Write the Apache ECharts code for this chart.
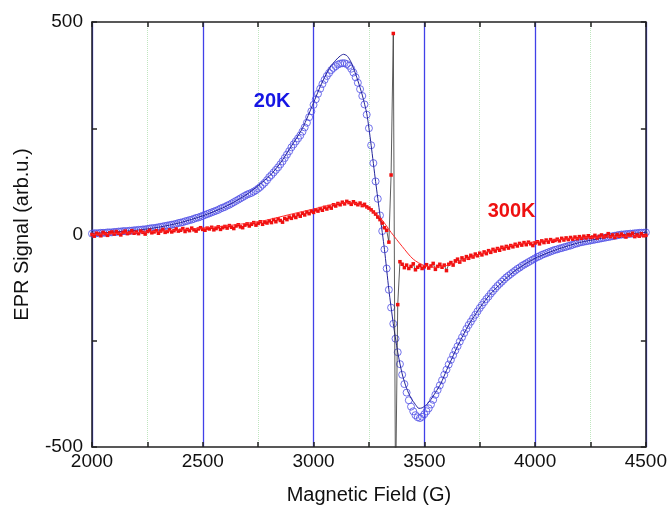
<!DOCTYPE html>
<html>
<head>
<meta charset="utf-8">
<script src="https://cdn.jsdelivr.net/npm/echarts@6/dist/echarts.min.js"></script>
<style>html,body{margin:0;padding:0;background:#fff;}#c{width:670px;height:510px;}</style>
</head>
<body>
<div id="c"></div>
<script>
// Field sampling of the measured spectra (G)
var fieldStart = 2000;
var fieldStep = 10;

// 20K measured signal (open circles), one value per 10 G from 2000 to 4500
var signal20K = [
  2, 3, 3, 3, 4, 4, 4, 5, 5, 5,
  6, 6, 7, 7, 8, 8, 8, 9, 9, 10,
  10, 11, 11, 12, 12, 13, 14, 15, 15, 16,
  17, 18, 19, 20, 21, 22, 23, 24, 25, 27,
  28, 29, 31, 32, 34, 35, 37, 39, 40, 42,
  44, 46, 48, 50, 52, 54, 56, 58, 61, 63,
  65, 68, 70, 73, 76, 79, 82, 85, 88, 91,
  94, 96, 98, 101, 104, 108, 112, 117, 122, 128,
  135, 140, 146, 152, 158, 165, 172, 180, 188, 196,
  205, 212, 219, 226, 233, 242, 252, 263, 276, 290,
  305, 318, 331, 343, 354, 364, 373, 380, 387, 392,
  396, 400, 402, 403, 403, 401, 397, 390, 381, 370,
  357, 342, 326, 306, 282, 250, 210, 168, 125, 84,
  45, 8, -35, -80, -130, -172, -210, -245, -277, -305,
  -330, -352, -372, -390, -405, -416, -425, -430, -432, -429,
  -423, -416, -409, -400, -389, -377, -366, -355, -343, -330,
  -318, -306, -295, -284, -273, -263, -252, -242, -232, -222,
  -213, -205, -197, -189, -181, -173, -166, -159, -152, -146,
  -139, -133, -127, -121, -116, -111, -106, -101, -97, -93,
  -89, -85, -81, -78, -74, -71, -68, -65, -62, -59,
  -56, -53, -51, -48, -46, -44, -42, -40, -38, -36,
  -35, -33, -32, -30, -29, -27, -26, -24, -22, -21,
  -19, -18, -17, -16, -15, -14, -13, -12, -11, -10,
  -9, -8, -7, -6, -5, -4, -3, -2, -1, 0,
  0, 1, 1, 2, 2, 3, 3, 4, 4, 4,
  5
];

// 300K measured signal (red squares), one value per 10 G from 2000 to 4500
var signal300K = [
  0, -4, 3, 1, -3, 5, 2, -2, 4, 6,
  1, 7, 3, -1, 5, 8, 2, 4, 9, 3,
  6, 2, 8, 5, 1, 7, 10, 4, 6, 9,
  3, 8, 12, 5, 7, 11, 6, 9, 13, 8,
  10, 14, 7, 12, 9, 15, 11, 8, 13, 16,
  12, 10, 15, 13, 17, 11, 14, 18, 12, 16,
  19, 15, 21, 17, 14, 20, 23, 18, 16, 22,
  25, 20, 24, 28, 22, 26, 30, 24, 29, 27,
  32, 28, 35, 30, 37, 33, 29, 38, 35, 41,
  38, 44, 40, 47, 43, 50, 46, 53, 49, 55,
  52, 58, 55, 61, 57, 64, 60, 66, 62, 70,
  67, 73, 70, 76, 72, 78, 75, 71, 77, 73,
  70, 74, 68, 71, 65, 62, 58, 53, 48, 41,
  35, 27, 16, 10, -18, 140, 473, -620, -165, -64,
  -70, -78, -72, -80, -75, -69, -83, -77, -73, -80,
  -76, -71, -79, -74, -68, -82, -75, -70, -77, -72,
  -85, -70, -66, -72, -62, -58, -65, -55, -60, -52,
  -56, -49, -53, -46, -50, -44, -48, -41, -45, -38,
  -42, -35, -39, -33, -37, -30, -34, -28, -32, -26,
  -29, -23, -27, -21, -25, -19, -24, -18, -22, -26,
  -20, -17, -22, -15, -19, -13, -18, -12, -16, -14,
  -11, -15, -9, -13, -8, -12, -7, -11, -6, -10,
  -5, -9, -4, -8, -3, -7, -6, -2, -8, -4,
  -1, -6, -3, 2, -5, -1, -7, 0, -4, 1,
  -3, -6, 0, -2, 3, -5, -1, -4, 2, -3,
  -2
];

// Fitted curves
var fit20KField = [2000,2100,2200,2300,2400,2500,2600,2700,2800,2850,2900,2950,3000,3025,3050,3075,3100,3120,3135,3150,3165,3180,3200,3220,3240,3250,3260,3280,3300,3320,3340,3360,3380,3400,3420,3440,3460,3475,3490,3510,3530,3550,3575,3600,3650,3700,3750,3800,3900,4000,4100,4200,4300,4400,4500];
var fit20KValue = [2,6,10,17,28,44,65,95,137,168,208,250,310,342,370,394,410,420,424,421,410,392,362,328,285,250,210,125,45,-35,-130,-210,-277,-328,-362,-385,-400,-409,-408,-400,-388,-372,-350,-320,-263,-213,-173,-139,-89,-56,-35,-19,-9,0,5];

var fit300KField = [2000,2250,2500,2750,2900,3000,3100,3150,3200,3250,3300,3350,3400,3450,3500,3550,3600,3700,3800,3900,4000,4100,4250,4500];
var fit300KValue = [0,6,15,30,48,60,72,75,72,60,40,5,-28,-58,-73,-77,-73,-56,-38,-25,-17,-12,-7,-3];

// Axis settings
var xMin = 2000, xMax = 4500, xStep = 500;
var yMin = -500, yMax = 500, yStep = 500;

// Annotations [field, signal]
var label20K = {text: '20K', at: [2813, 312]};
var label300K = {text: '300K', at: [3894, 55]};

function pairs(xs, ys) { return ys.map(function (v, i) { return [xs[i], v]; }); }
function sampled(ys) { return ys.map(function (v, i) { return [fieldStart + i * fieldStep, v]; }); }

var FONT = 'Liberation Sans';
var axisCol = '#222';

function makeX(pos, primary) {
  return {
    type: 'value', position: pos, min: xMin, max: xMax, interval: xStep,
    axisLine: {show: true, onZero: false, lineStyle: {color: axisCol, width: 1.5}},
    axisTick: {show: true, inside: true, length: 5, lineStyle: {color: axisCol, width: 1.5}},
    minorTick: {show: true, splitNumber: 2, length: 5, lineStyle: {color: axisCol, width: 1.5}},
    axisLabel: {show: primary, fontSize: 19, color: '#111', margin: 5, fontFamily: FONT,
      formatter: function (v) { return String(v); }},
    splitLine: {show: primary, lineStyle: {color: '#4040e8', width: 1.3, opacity: 1}},
    minorSplitLine: {show: primary, lineStyle: {color: '#bfe6bf', width: 1, type: 'dotted'}},
    name: primary ? 'Magnetic Field (G)' : '', nameLocation: 'middle', nameGap: 38,
    nameTextStyle: {fontSize: 20, color: '#111', fontFamily: FONT}
  };
}
function makeY(pos, primary) {
  return {
    type: 'value', position: pos, min: yMin, max: yMax, interval: yStep,
    axisLine: {show: true, onZero: false, lineStyle: {color: axisCol, width: 1.5}},
    axisTick: {show: true, inside: true, length: 5, lineStyle: {color: axisCol, width: 1.5}},
    minorTick: {show: true, splitNumber: 2, length: 5, lineStyle: {color: axisCol, width: 1.5}},
    axisLabel: {show: primary, fontSize: 19, color: '#111', margin: 9, fontFamily: FONT,
      formatter: function (v) { return String(v); }},
    splitLine: {show: false}, minorSplitLine: {show: false},
    name: primary ? 'EPR Signal (arb.u.)' : '', nameLocation: 'middle', nameGap: 60, nameRotate: 90,
    nameTextStyle: {fontSize: 20, color: '#111', fontFamily: FONT}
  };
}

var chart = echarts.init(document.getElementById('c'), null, {renderer: 'canvas'});
chart.setOption({
  animation: false,
  backgroundColor: '#fff',
  grid: {left: 92, top: 22, width: 555, height: 429, show: false},
  xAxis: [makeX('bottom', true), makeX('top', false)],
  yAxis: [makeY('left', true), makeY('right', false)],
  series: [
    {
      type: 'scatter', name: '20K', xAxisIndex: 0, yAxisIndex: 0,
      data: sampled(signal20K), symbol: 'circle', symbolSize: 7, z: 2, silent: true,
      itemStyle: {color: 'rgba(255,255,255,0)', borderColor: '#5050e6', borderWidth: 1}
    },
    {
      type: 'line', name: '20K fit', data: pairs(fit20KField, fit20KValue), showSymbol: false,
      smooth: 0.25, z: 3, silent: true,
      lineStyle: {color: '#24249c', width: 1},
      markPoint: {
        symbol: 'circle', symbolSize: 0, silent: true,
        label: {show: true, position: 'inside', formatter: label20K.text, fontSize: 20, fontWeight: 'bold', color: '#1616e4', fontFamily: FONT},
        data: [{coord: label20K.at}]
      }
    },
    {
      type: 'line', name: '300K', data: sampled(signal300K), symbol: 'rect', symbolSize: 3.5,
      showSymbol: true, z: 4, silent: true, clip: true,
      itemStyle: {color: '#f01010'},
      lineStyle: {color: '#333', width: 0.8}
    },
    {
      type: 'line', name: '300K fit', data: pairs(fit300KField, fit300KValue), showSymbol: false,
      smooth: 0.3, z: 5, silent: true,
      lineStyle: {color: '#ff2a2a', width: 1},
      markPoint: {
        symbol: 'circle', symbolSize: 0, silent: true,
        label: {show: true, position: 'inside', formatter: label300K.text, fontSize: 20, fontWeight: 'bold', color: '#ee1111', fontFamily: FONT},
        data: [{coord: label300K.at}]
      }
    }
  ]
});
</script>
</body>
</html>
